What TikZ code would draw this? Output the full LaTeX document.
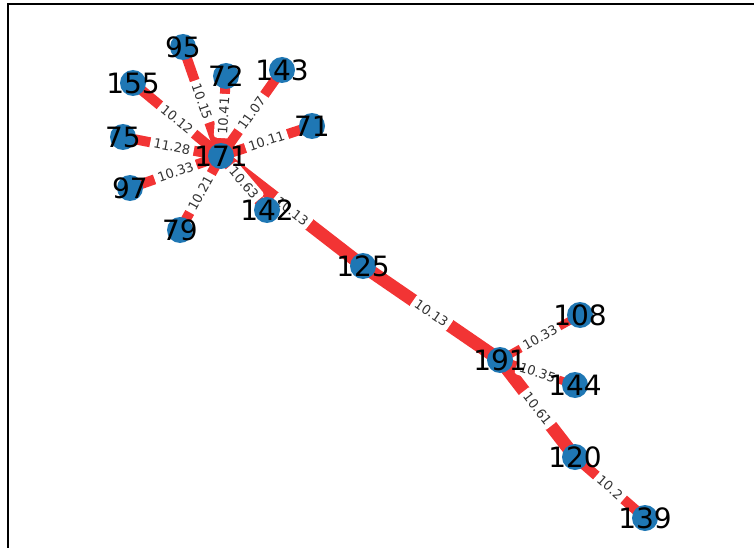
\documentclass[tikz,border=0pt]{standalone}
\usepackage{fontspec}
\setmainfont{DejaVu Sans}
\usetikzlibrary{backgrounds}

\definecolor{nodeblue}{RGB}{31,119,180}
\definecolor{edgered}{RGB}{242,52,52}

\begin{document}
\begin{tikzpicture}[
    x=1pt, y=-1pt,
    vertex/.style={circle, fill=nodeblue, minimum size=26pt, inner sep=0pt,
        label={[vlabel]center:#1}},
    vlabel/.style={font=\fontsize{28}{28}\selectfont, text=black, inner sep=0pt},
    edge/.style={draw=edgered, line width=10pt},
    trunk/.style={edge, line width=13pt},
    twig/.style={edge, line width=8pt},
    elabel/.style={midway, sloped, fill=white, rounded corners=3pt, inner sep=3.5pt,
        font=\fontsize{13}{13}\selectfont, text=black!80}
]
    \useasboundingbox (0,0) rectangle (754,548);
    % Frame
    \draw[line width=2pt] (7.5,548) -- (7.5,4) -- (754,4);

    % Nodes
    \node[vertex=171] (n171) at (221,156) {};
    \node[vertex=95]  (n95)  at (183,47) {};
    \node[vertex=72]  (n72)  at (226,76) {};
    \node[vertex=143] (n143) at (282,70) {};
    \node[vertex=155] (n155) at (133,83) {};
    \node[vertex=75]  (n75)  at (123,137) {};
    \node[vertex=71]  (n71)  at (312,126) {};
    \node[vertex=97]  (n97)  at (130,188) {};
    \node[vertex=79]  (n79)  at (180,230) {};
    \node[vertex=142] (n142) at (267,210) {};
    \node[vertex=125] (n125) at (363,266) {};
    \node[vertex=191] (n191) at (500,360) {};
    \node[vertex=108] (n108) at (580,315) {};
    \node[vertex=144] (n144) at (575,385) {};
    \node[vertex=120] (n120) at (575,457) {};
    \node[vertex=139] (n139) at (645,518) {};

    % Edges (trunk first, so the smaller labels sit on top of it)
    \begin{scope}[on background layer]
        \draw[trunk] (n171.center) -- node[elabel] {10.13} (n125.center);
        \draw[trunk] (n125.center) -- node[elabel] {10.13} (n191.center);
        \draw[trunk] (n191.center) -- node[elabel] {10.61} (n120.center);
        \draw[edge] (n120.center) -- node[elabel] {10.2} (n139.center);
        \draw[twig] (n191.center) -- node[elabel] {10.33} (n108.center);
        \draw[twig] (n191.center) -- node[elabel] {10.35} (n144.center);
        \draw[edge] (n171.center) -- node[elabel] {10.15} (n95.center);
        \draw[edge] (n171.center) -- node[elabel] {10.41} (n72.center);
        \draw[edge] (n171.center) -- node[elabel] {11.07} (n143.center);
        \draw[edge] (n171.center) -- node[elabel] {10.12} (n155.center);
        \draw[edge] (n171.center) -- node[elabel] {11.28} (n75.center);
        \draw[edge] (n171.center) -- node[elabel] {10.11} (n71.center);
        \draw[edge] (n171.center) -- node[elabel] {10.33} (n97.center);
        \draw[edge] (n171.center) -- node[elabel] {10.21} (n79.center);
        \draw[edge] (n171.center) -- node[elabel] {10.63} (n142.center);
    \end{scope}
\end{tikzpicture}
\end{document}
